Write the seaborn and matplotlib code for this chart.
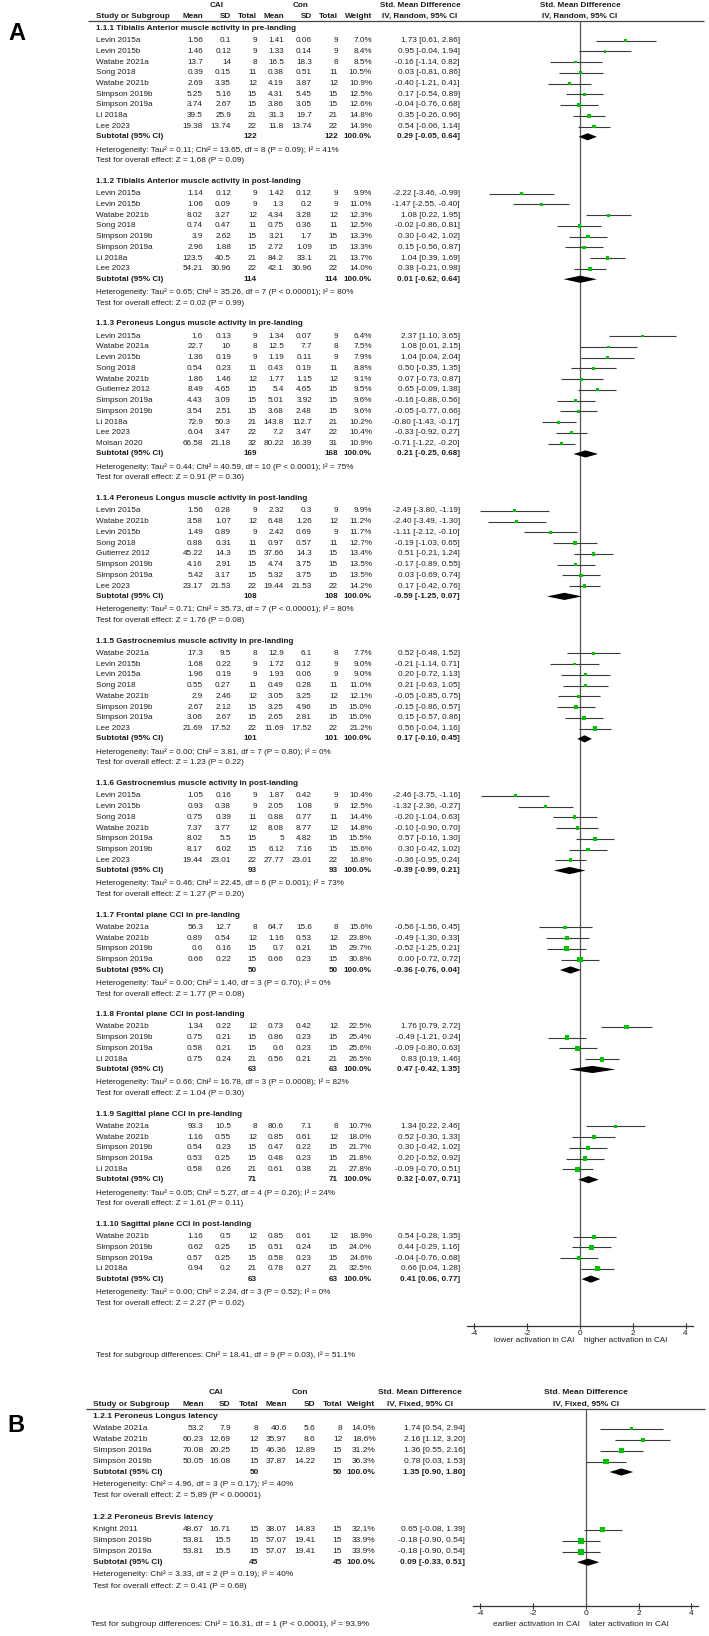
import numpy as np
import pandas as pd
import matplotlib
matplotlib.use("Agg")
import matplotlib.pyplot as plt
import seaborn as sns

W, H = 709, 1636

# ---------------- panel A : study rows ----------------
a_group = [0]*9 + [1]*8 + [2]*11 + [3]*8 + [4]*8 + [5]*7 + [6]*4 + [7]*4 + [8]*5 + [9]*4
a_study = [
    "Levin 2015a", "Levin 2015b", "Watabe 2021a", "Song 2018", "Watabe 2021b", "Simpson 2019b", "Simpson 2019a", "Li 2018a", "Lee 2023",
    "Levin 2015a", "Levin 2015b", "Watabe 2021b", "Song 2018", "Simpson 2019b", "Simpson 2019a", "Li 2018a", "Lee 2023",
    "Levin 2015a", "Watabe 2021a", "Levin 2015b", "Song 2018", "Watabe 2021b", "Gutierrez 2012", "Simpson 2019a", "Simpson 2019b", "Li 2018a", "Lee 2023", "Moisan 2020",
    "Levin 2015a", "Watabe 2021b", "Levin 2015b", "Song 2018", "Gutierrez 2012", "Simpson 2019b", "Simpson 2019a", "Lee 2023",
    "Watabe 2021a", "Levin 2015b", "Levin 2015a", "Song 2018", "Watabe 2021b", "Simpson 2019b", "Simpson 2019a", "Lee 2023",
    "Levin 2015a", "Levin 2015b", "Song 2018", "Watabe 2021b", "Simpson 2019a", "Simpson 2019b", "Lee 2023",
    "Watabe 2021a", "Watabe 2021b", "Simpson 2019b", "Simpson 2019a",
    "Watabe 2021b", "Simpson 2019b", "Simpson 2019a", "Li 2018a",
    "Watabe 2021a", "Watabe 2021b", "Simpson 2019b", "Simpson 2019a", "Li 2018a",
    "Watabe 2021b", "Simpson 2019b", "Simpson 2019a", "Li 2018a",
]
a_cai_mean = [1.56, 1.46, 13.7, 0.39, 2.69, 5.25, 3.74, 39.5, 19.38,
              1.14, 1.06, 8.02, 0.74, 3.9, 2.96, 123.5, 54.21,
              1.6, 22.7, 1.36, 0.54, 1.86, 8.49, 4.43, 3.54, 72.9, 6.04, 66.58,
              1.56, 3.58, 1.49, 0.88, 45.22, 4.16, 5.42, 23.17,
              17.3, 1.68, 1.96, 0.55, 2.9, 2.67, 3.06, 21.69,
              1.05, 0.93, 0.75, 7.37, 8.02, 8.17, 19.44,
              56.3, 0.89, 0.6, 0.66,
              1.34, 0.75, 0.58, 0.75,
              93.3, 1.16, 0.54, 0.53, 0.58,
              1.16, 0.62, 0.57, 0.94]
a_cai_sd = [0.1, 0.12, 14, 0.15, 3.35, 5.16, 2.67, 25.9, 13.74,
            0.12, 0.09, 3.27, 0.47, 2.62, 1.88, 40.5, 30.96,
            0.13, 10, 0.19, 0.23, 1.46, 4.65, 3.09, 2.51, 50.3, 3.47, 21.18,
            0.28, 1.07, 0.89, 0.31, 14.3, 2.91, 3.17, 21.53,
            9.5, 0.22, 0.19, 0.27, 2.46, 2.12, 2.67, 17.52,
            0.16, 0.38, 0.39, 3.77, 5.5, 6.02, 23.01,
            12.7, 0.54, 0.16, 0.22,
            0.22, 0.21, 0.21, 0.24,
            10.5, 0.55, 0.23, 0.25, 0.26,
            0.5, 0.25, 0.25, 0.2]
a_cai_n = [9, 9, 8, 11, 12, 15, 15, 21, 22,
           9, 9, 12, 11, 15, 15, 21, 22,
           9, 8, 9, 11, 12, 15, 15, 15, 21, 22, 32,
           9, 12, 9, 11, 15, 15, 15, 22,
           8, 9, 9, 11, 12, 15, 15, 22,
           9, 9, 11, 12, 15, 15, 22,
           8, 12, 15, 15,
           12, 15, 15, 21,
           8, 12, 15, 15, 21,
           12, 15, 15, 21]
a_con_mean = [1.41, 1.33, 16.5, 0.38, 4.19, 4.31, 3.86, 31.3, 11.8,
              1.42, 1.3, 4.34, 0.75, 3.21, 2.72, 84.2, 42.1,
              1.34, 12.5, 1.19, 0.43, 1.77, 5.4, 5.01, 3.68, 143.8, 7.2, 80.22,
              2.32, 6.48, 2.42, 0.97, 37.66, 4.74, 5.32, 19.44,
              12.9, 1.72, 1.93, 0.49, 3.05, 3.25, 2.65, 11.69,
              1.87, 2.05, 0.88, 8.08, 5, 6.12, 27.77,
              64.7, 1.16, 0.7, 0.66,
              0.73, 0.86, 0.6, 0.56,
              80.6, 0.85, 0.47, 0.48, 0.61,
              0.85, 0.51, 0.58, 0.78]
a_con_sd = [0.06, 0.14, 18.3, 0.51, 3.87, 5.45, 3.05, 19.7, 13.74,
            0.12, 0.2, 3.28, 0.36, 1.7, 1.09, 33.1, 30.96,
            0.07, 7.7, 0.11, 0.19, 1.15, 4.65, 3.92, 2.48, 112.7, 3.47, 16.39,
            0.3, 1.26, 0.69, 0.57, 14.3, 3.75, 3.75, 21.53,
            6.1, 0.12, 0.06, 0.28, 3.25, 4.96, 2.81, 17.52,
            0.42, 1.08, 0.77, 8.77, 4.82, 7.16, 23.01,
            15.6, 0.53, 0.21, 0.23,
            0.42, 0.23, 0.23, 0.21,
            7.1, 0.61, 0.22, 0.23, 0.38,
            0.61, 0.24, 0.23, 0.27]
a_con_n = [9, 9, 8, 11, 12, 15, 15, 21, 22,
           9, 9, 12, 11, 15, 15, 21, 22,
           9, 8, 9, 11, 12, 15, 15, 15, 21, 22, 31,
           9, 12, 9, 11, 15, 15, 15, 22,
           8, 9, 9, 11, 12, 15, 15, 22,
           9, 9, 11, 12, 15, 15, 22,
           8, 12, 15, 15,
           12, 15, 15, 21,
           8, 12, 15, 15, 21,
           12, 15, 15, 21]
a_weight = [7.0, 8.4, 8.5, 10.5, 10.9, 12.5, 12.6, 14.8, 14.9,
            9.9, 11.0, 12.3, 12.5, 13.3, 13.3, 13.7, 14.0,
            6.4, 7.5, 7.9, 8.8, 9.1, 9.5, 9.6, 9.6, 10.2, 10.4, 10.9,
            9.9, 11.2, 11.7, 12.7, 13.4, 13.5, 13.5, 14.2,
            7.7, 9.0, 9.0, 11.0, 12.1, 15.0, 15.0, 21.2,
            10.4, 12.5, 14.4, 14.8, 15.5, 15.6, 16.8,
            15.6, 23.8, 29.7, 30.8,
            22.5, 25.4, 25.6, 26.5,
            10.7, 18.0, 21.7, 21.8, 27.8,
            18.9, 24.0, 24.6, 32.5]
a_smd = [1.73, 0.95, -0.16, 0.03, -0.40, 0.17, -0.04, 0.35, 0.54,
         -2.22, -1.47, 1.08, -0.02, 0.30, 0.15, 1.04, 0.38,
         2.37, 1.08, 1.04, 0.50, 0.07, 0.65, -0.16, -0.05, -0.80, -0.33, -0.71,
         -2.49, -2.40, -1.11, -0.19, 0.51, -0.17, 0.03, 0.17,
         0.52, -0.21, 0.20, 0.21, -0.05, -0.15, 0.15, 0.56,
         -2.46, -1.32, -0.20, -0.10, 0.57, 0.30, -0.36,
         -0.56, -0.49, -0.52, 0.00,
         1.76, -0.49, -0.09, 0.83,
         1.34, 0.52, 0.30, 0.20, -0.09,
         0.54, 0.44, -0.04, 0.66]
a_lo = [0.61, -0.04, -1.14, -0.81, -1.21, -0.54, -0.76, -0.26, -0.06,
        -3.46, -2.55, 0.22, -0.86, -0.42, -0.56, 0.39, -0.21,
        1.10, 0.01, 0.04, -0.35, -0.73, -0.09, -0.88, -0.77, -1.43, -0.92, -1.22,
        -3.80, -3.49, -2.12, -1.03, -0.21, -0.89, -0.69, -0.42,
        -0.48, -1.14, -0.72, -0.63, -0.85, -0.86, -0.57, -0.04,
        -3.75, -2.36, -1.04, -0.90, -0.16, -0.42, -0.95,
        -1.56, -1.30, -1.25, -0.72,
        0.79, -1.21, -0.80, 0.19,
        0.22, -0.30, -0.42, -0.52, -0.70,
        -0.28, -0.29, -0.76, 0.04]
a_hi = [2.86, 1.94, 0.82, 0.86, 0.41, 0.89, 0.68, 0.96, 1.14,
        -0.99, -0.40, 1.95, 0.81, 1.02, 0.87, 1.69, 0.98,
        3.65, 2.15, 2.04, 1.35, 0.87, 1.38, 0.56, 0.66, -0.17, 0.27, -0.20,
        -1.19, -1.30, -0.10, 0.65, 1.24, 0.55, 0.74, 0.76,
        1.52, 0.71, 1.13, 1.05, 0.75, 0.57, 0.86, 1.16,
        -1.16, -0.27, 0.63, 0.70, 1.30, 1.02, 0.24,
        0.45, 0.33, 0.21, 0.72,
        2.72, 0.24, 0.63, 1.46,
        2.46, 1.33, 1.02, 0.92, 0.51,
        1.35, 1.16, 0.68, 1.28]

# ---------------- panel A : subgroups ----------------
a_titles = [
    "1.1.1 Tibialis Anterior muscle activity in pre-landing",
    "1.1.2 Tibialis Anterior muscle activity in post-landing",
    "1.1.3 Peroneus Longus muscle activity in pre-landing",
    "1.1.4 Peroneus Longus muscle activity in post-landing",
    "1.1.5 Gastrocnemius muscle activity in pre-landing",
    "1.1.6 Gastrocnemius muscle activity in post-landing",
    "1.1.7 Frontal plane CCI in pre-landing",
    "1.1.8 Frontal plane CCI in post-landing",
    "1.1.9 Sagittal plane CCI in pre-landing",
    "1.1.10 Sagittal plane CCI in post-landing",
]
a_sub_cai_n = [122, 114, 169, 108, 101, 93, 50, 63, 71, 63]
a_sub_con_n = [122, 114, 168, 108, 101, 93, 50, 63, 71, 63]
a_sub_smd = [0.29, 0.01, 0.21, -0.59, 0.17, -0.39, -0.36, 0.47, 0.32, 0.41]
a_sub_lo = [-0.05, -0.62, -0.25, -1.25, -0.10, -0.99, -0.76, -0.42, -0.07, 0.06]
a_sub_hi = [0.64, 0.64, 0.68, 0.07, 0.45, 0.21, 0.04, 1.35, 0.71, 0.77]
a_het = [
    "Heterogeneity: Tau² = 0.11; Chi² = 13.65, df = 8 (P = 0.09); I² = 41%",
    "Heterogeneity: Tau² = 0.65; Chi² = 35.26, df = 7 (P < 0.00001); I² = 80%",
    "Heterogeneity: Tau² = 0.44; Chi² = 40.59, df = 10 (P < 0.0001); I² = 75%",
    "Heterogeneity: Tau² = 0.71; Chi² = 35.73, df = 7 (P < 0.00001); I² = 80%",
    "Heterogeneity: Tau² = 0.00; Chi² = 3.81, df = 7 (P = 0.80); I² = 0%",
    "Heterogeneity: Tau² = 0.46; Chi² = 22.45, df = 6 (P = 0.001); I² = 73%",
    "Heterogeneity: Tau² = 0.00; Chi² = 1.40, df = 3 (P = 0.70); I² = 0%",
    "Heterogeneity: Tau² = 0.66; Chi² = 16.78, df = 3 (P = 0.0008); I² = 82%",
    "Heterogeneity: Tau² = 0.05; Chi² = 5.27, df = 4 (P = 0.26); I² = 24%",
    "Heterogeneity: Tau² = 0.00; Chi² = 2.24, df = 3 (P = 0.52); I² = 0%",
]
a_test = [
    "Test for overall effect: Z = 1.68 (P = 0.09)",
    "Test for overall effect: Z = 0.02 (P = 0.99)",
    "Test for overall effect: Z = 0.91 (P = 0.36)",
    "Test for overall effect: Z = 1.76 (P = 0.08)",
    "Test for overall effect: Z = 1.23 (P = 0.22)",
    "Test for overall effect: Z = 1.27 (P = 0.20)",
    "Test for overall effect: Z = 1.77 (P = 0.08)",
    "Test for overall effect: Z = 1.04 (P = 0.30)",
    "Test for overall effect: Z = 1.61 (P = 0.11)",
    "Test for overall effect: Z = 2.27 (P = 0.02)",
]
a_overall = "Test for subgroup differences: Chi² = 18.41, df = 9 (P = 0.03), I² = 51.1%"
a_xlabels = ["lower activation in CAI", "higher activation in CAI"]

# ---------------- panel B ----------------
b_group = [0]*4 + [1]*3
b_study = ["Watabe 2021a", "Watabe 2021b", "Simpson 2019a", "Simpson 2019b",
           "Knight 2011", "Simpson 2019b", "Simpson 2019a"]
b_cai_mean = [53.2, 60.23, 70.08, 50.05, 48.67, 53.81, 53.81]
b_cai_sd = [7.9, 12.69, 20.25, 16.08, 16.71, 15.5, 15.5]
b_cai_n = [8, 12, 15, 15, 15, 15, 15]
b_con_mean = [40.6, 35.97, 46.36, 37.87, 38.07, 57.07, 57.07]
b_con_sd = [5.6, 8.6, 12.89, 14.22, 14.83, 19.41, 19.41]
b_con_n = [8, 12, 15, 15, 15, 15, 15]
b_weight = [14.0, 18.6, 31.2, 36.3, 32.1, 33.9, 33.9]
b_smd = [1.74, 2.16, 1.36, 0.78, 0.65, -0.18, -0.18]
b_lo = [0.54, 1.12, 0.55, 0.03, -0.08, -0.90, -0.90]
b_hi = [2.94, 3.20, 2.16, 1.53, 1.39, 0.54, 0.54]

b_titles = ["1.2.1 Peroneus Longus latency", "1.2.2 Peroneus Brevis latency"]
b_sub_cai_n = [50, 45]
b_sub_con_n = [50, 45]
b_sub_smd = [1.35, 0.09]
b_sub_lo = [0.90, -0.33]
b_sub_hi = [1.80, 0.51]
b_het = ["Heterogeneity: Chi² = 4.96, df = 3 (P = 0.17); I² = 40%",
         "Heterogeneity: Chi² = 3.33, df = 2 (P = 0.19); I² = 40%"]
b_test = ["Test for overall effect: Z = 5.89 (P < 0.00001)",
          "Test for overall effect: Z = 0.41 (P = 0.68)"]
b_overall = "Test for subgroup differences: Chi² = 16.31, df = 1 (P < 0.0001), I² = 93.9%"
b_xlabels = ["earlier activation in CAI", "later activation in CAI"]

ticks = [-4, -2, 0, 2, 4]

GREEN = "#00c800"
INK = "#1e1e1e"

sns.set_theme(style="white")
plt.rcParams["font.family"] = ["Liberation Sans", "DejaVu Sans"]


# Name:      row_positions
# Summary:   vertical (pixel) position of every line of one panel
def row_positions(groups, n_titles, y0, a, r, s, h, t, g):
    yt, yr, ys, yh, yz = [], [], [], [], []
    y = y0
    for k in range(n_titles):
        yt.append(y)
        y += a
        for _ in range(groups.count(k)):
            yr.append(y)
            y += r
        y = y - r + s
        ys.append(y)
        y += h
        yh.append(y)
        y += t
        yz.append(y)
        y += g
    return yt, yr, ys, yh, yz


def fmt(v):
    return f"{v:g}"


def draw_panel(fig, bg, rows, subs, cols, lay, method, xlabels, overall, fs):
    yt, yr, ys, yh, yz = lay["pos"]
    rows = rows.assign(y=yr)
    subs = subs.assign(y=ys)

    def txt(x, y, s, ha="left", bold=False):
        bg.text(x, y, s, ha=ha, va="center", fontsize=fs, color=INK,
                fontweight="bold" if bold else "normal")

    # header
    hy = lay["header_y"]
    txt(cols["cai"], hy - 11, "CAI", "center", True)
    txt(cols["con"], hy - 11, "Con", "center", True)
    txt(cols["smd_head"], hy - 11, "Std. Mean Difference", "center", True)
    txt(cols["zero"], hy - 11, "Std. Mean Difference", "center", True)
    txt(cols["name"], hy, "Study or Subgroup", bold=True)
    for key, lab in [("m1", "Mean"), ("s1", "SD"), ("n1", "Total"), ("m2", "Mean"),
                     ("s2", "SD"), ("n2", "Total"), ("w", "Weight")]:
        txt(cols[key], hy, lab, "right", True)
    txt(cols["smd_head"], hy, f"IV, {method}, 95% CI", "center", True)
    txt(cols["zero"], hy, f"IV, {method}, 95% CI", "center", True)
    bg.hlines(lay["line_y"], cols["line_x0"], cols["line_x1"], color="#444444", lw=0.9)

    # table body
    for k, title in enumerate(subs["title"]):
        txt(cols["name"], yt[k], title, bold=True)
    for _, rw in rows.iterrows():
        txt(cols["name"], rw.y, rw.study)
        txt(cols["m1"], rw.y, fmt(rw.m1), "right")
        txt(cols["s1"], rw.y, fmt(rw.s1), "right")
        txt(cols["n1"], rw.y, f"{rw.n1:d}", "right")
        txt(cols["m2"], rw.y, fmt(rw.m2), "right")
        txt(cols["s2"], rw.y, fmt(rw.s2), "right")
        txt(cols["n2"], rw.y, f"{rw.n2:d}", "right")
        txt(cols["w"], rw.y, f"{rw.w:.1f}%", "right")
        txt(cols["ci"], rw.y, f"{rw.smd:.2f} [{rw.lo:.2f}, {rw.hi:.2f}]", "right")
    for k, sb in subs.iterrows():
        txt(cols["name"], sb.y, "Subtotal (95% CI)", bold=True)
        txt(cols["n1"], sb.y, f"{sb.n1:d}", "right", True)
        txt(cols["n2"], sb.y, f"{sb.n2:d}", "right", True)
        txt(cols["w"], sb.y, "100.0%", "right", True)
        txt(cols["ci"], sb.y, f"{sb.smd:.2f} [{sb.lo:.2f}, {sb.hi:.2f}]", "right", True)
        txt(cols["name"], yh[k], sb.het)
        txt(cols["name"], yz[k], sb.test)
    txt(cols["overall_x"], lay["overall_y"], overall)

    # forest plot axes, y in pixel rows, x in SMD units
    x0, x1 = cols["plot_x0"], cols["plot_x1"]
    top, bot = lay["line_y"], lay["axis_y"]
    ppu = cols["ppu"]
    ax = fig.add_axes([x0 / W, 1 - bot / H, (x1 - x0) / W, (bot - top) / H])
    ax.patch.set_alpha(0)
    ax.set_xlim((x0 - cols["zero"]) / ppu, (x1 - cols["zero"]) / ppu)
    ax.set_ylim(bot, top)
    ax.axvline(0, color="#555555", lw=0.9, zorder=1)
    ax.hlines(rows.y, rows.lo, rows.hi, color="#3a3a3a", lw=0.8, zorder=2)
    sns.scatterplot(data=rows, x="smd", y="y", size="w", sizes=(0, 45), size_norm=(0, 100),
                    marker="s", color=GREEN, linewidth=0, legend=False, ax=ax, zorder=3)
    for _, sb in subs.iterrows():
        ax.fill([sb.lo, sb.smd, sb.hi, sb.smd], [sb.y, sb.y - 3.6, sb.y, sb.y + 3.6],
                color="black", lw=0, zorder=4)
    for side in ["top", "right", "left"]:
        ax.spines[side].set_visible(False)
    ax.spines["bottom"].set_bounds(-4.27, 4.27)
    ax.spines["bottom"].set_color("#333333")
    ax.spines["bottom"].set_linewidth(0.9)
    ax.set_xticks(ticks)
    ax.set_xticklabels([str(v) for v in ticks])
    ax.set_yticks([])
    ax.set_xlabel("")
    ax.set_ylabel("")
    ax.tick_params(axis="x", direction="inout", length=4.3, width=0.8, pad=1,
                   labelsize=fs, colors="#333333", labelcolor=INK, bottom=True)
    txt(cols["zero"] - 6, bot + lay["xlab_dy"], xlabels[0], "right")
    txt(cols["zero"] + 3.6, bot + lay["xlab_dy"], xlabels[1], "left")


def make_frames(study, m1, s1, n1, m2, s2, n2, w, smd, lo, hi,
                titles, sn1, sn2, ssmd, slo, shi, het, test):
    rows = pd.DataFrame({"study": study, "m1": m1, "s1": s1, "n1": n1, "m2": m2, "s2": s2,
                         "n2": n2, "w": w, "smd": smd, "lo": lo, "hi": hi})
    subs = pd.DataFrame({"title": titles, "n1": sn1, "n2": sn2, "smd": ssmd,
                         "lo": slo, "hi": shi, "het": het, "test": test})
    return rows, subs


fig = plt.figure(figsize=(W / 100, H / 100), dpi=100)
fig.patch.set_facecolor("white")
bg = fig.add_axes([0, 0, 1, 1])
bg.set_xlim(0, W)
bg.set_ylim(H, 0)
bg.axis("off")

# panel A
rows_a, subs_a = make_frames(a_study, a_cai_mean, a_cai_sd, a_cai_n, a_con_mean, a_con_sd, a_con_n,
                             a_weight, a_smd, a_lo, a_hi, a_titles, a_sub_cai_n, a_sub_con_n,
                             a_sub_smd, a_sub_lo, a_sub_hi, a_het, a_test)
cols_a = dict(name=96, m1=203, s1=231, n1=257, m2=284, s2=312, n2=338, w=372, ci=460,
              cai=217, con=300.5, smd_head=420, zero=580, ppu=26.4,
              line_x0=88, line_x1=704, plot_x0=466, plot_x1=706, overall_x=96)
lay_a = dict(pos=row_positions(a_group, len(a_titles), 28.3, 12.2, 10.75, 10.3, 13, 11, 20.7),
             header_y=16.3, line_y=20.7, axis_y=1326, xlab_dy=15, overall_y=1355)
draw_panel(fig, bg, rows_a, subs_a, cols_a, lay_a, "Random", a_xlabels, a_overall, 5.9)

# panel B
rows_b, subs_b = make_frames(b_study, b_cai_mean, b_cai_sd, b_cai_n, b_con_mean, b_con_sd, b_con_n,
                             b_weight, b_smd, b_lo, b_hi, b_titles, b_sub_cai_n, b_sub_con_n,
                             b_sub_smd, b_sub_lo, b_sub_hi, b_het, b_test)
cols_b = dict(name=92.7, m1=204, s1=230.7, n1=258.7, m2=286.7, s2=315, n2=342.3, w=375.7, ci=465,
              cai=216.3, con=300.3, smd_head=420, zero=585.7, ppu=26.4,
              line_x0=86, line_x1=705, plot_x0=470, plot_x1=706, overall_x=90.7)
lay_b = dict(pos=row_positions(b_group, len(b_titles), 1416, 12.6, 11.0, 10.4, 12.4, 11.5, 21.3),
             header_y=1404, line_y=1409.3, axis_y=1606, xlab_dy=18, overall_y=1624.3)
draw_panel(fig, bg, rows_b, subs_b, cols_b, lay_b, "Fixed", b_xlabels, b_overall, 6.0)

bg.text(16.5, 33.5, "A", ha="center", va="center", fontsize=17, fontweight="bold", color="black")
bg.text(16, 1425, "B", ha="center", va="center", fontsize=17, fontweight="bold", color="black")

fig.savefig("out.png", dpi=100, facecolor="white")
